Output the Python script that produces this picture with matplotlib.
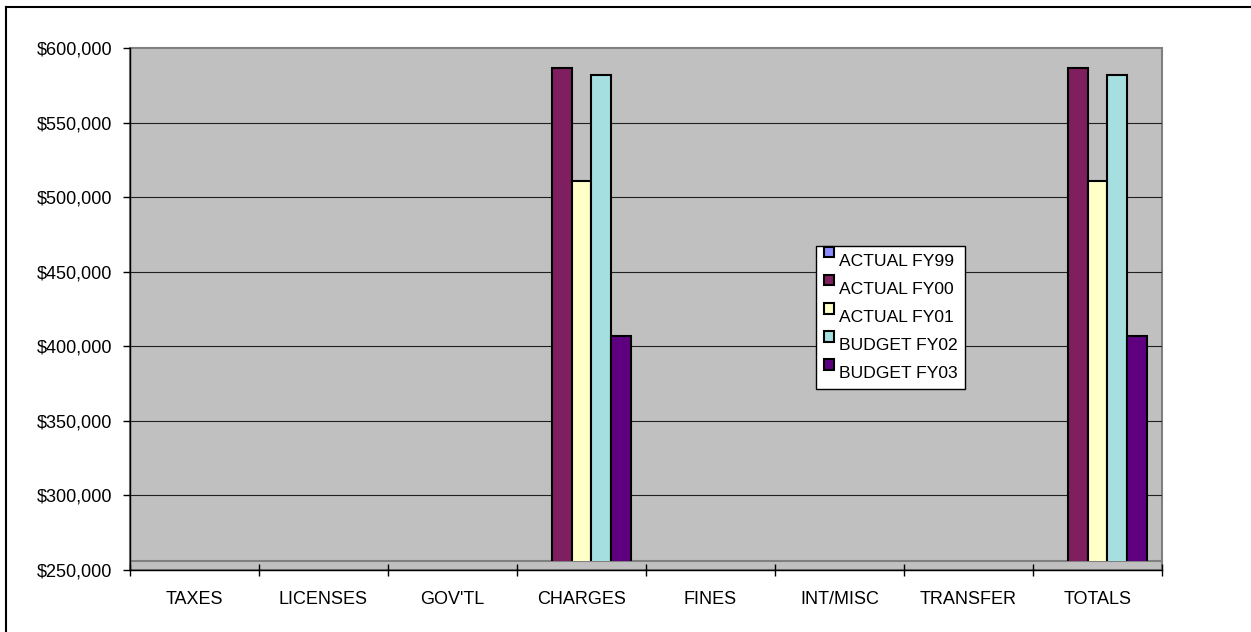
import numpy as np
import matplotlib
matplotlib.use("Agg")
import matplotlib.pyplot as plt
import matplotlib.transforms as mtransforms
from matplotlib.patches import Rectangle
from matplotlib.lines import Line2D
from matplotlib.container import BarContainer
from matplotlib.legend_handler import HandlerPatch, update_from_first_child
from matplotlib.ticker import FuncFormatter

plt.rcParams['font.family'] = ['Liberation Sans', 'DejaVu Sans']

categories = ["TAXES", "LICENSES", "GOV'TL", "CHARGES", "FINES", "INT/MISC", "TRANSFER", "TOTALS"]
series = ["ACTUAL FY99", "ACTUAL FY00", "ACTUAL FY01", "BUDGET FY02", "BUDGET FY03"]
actual_fy99 = [0, 0, 0, 0, 0, 0, 0, 0]
actual_fy00 = [0, 0, 0, 586500, 0, 0, 0, 586500]
actual_fy01 = [0, 0, 0, 510500, 0, 0, 0, 510500]
budget_fy02 = [0, 0, 0, 582000, 0, 0, 0, 582000]
budget_fy03 = [0, 0, 0, 406700, 0, 0, 0, 406700]
values = [actual_fy99, actual_fy00, actual_fy01, budget_fy02, budget_fy03]
colors = ["#8C8CFF", "#7F1F5F", "#FFFFC8", "#A6DFE0", "#5F0080"]
yticks = list(range(250000, 600001, 50000))

W, H = 1251, 632
fig = plt.figure(figsize=(W / 100, H / 100), dpi=100)
ax = fig.add_axes([130 / W, 1 - 570 / H, 1032 / W, 522 / H])
ax.set_facecolor('#c0c0c0')
ax.set_xlim(0, len(categories))
ax.set_ylim(yticks[0], yticks[-1])

# back wall + floor (floor top sits a few pixels above the axis line)
ncat = len(categories)
wall = Rectangle((0, yticks[0]), ncat, yticks[-1] - yticks[0],
                 facecolor='#c0c0c0', edgecolor='#808080', lw=1.5, clip_on=False, zorder=0.5)
ax.add_patch(wall)
floor = mtransforms.offset_copy(ax.transData, fig=fig, x=0, y=9, units='dots')
ax.plot([0, ncat], [yticks[0], yticks[0]], transform=floor, color='#808080', lw=1.5, zorder=1)
bar_clip = Rectangle((0, yticks[0]), ncat, yticks[-1] - yticks[0], transform=floor,
                     fill=False, lw=0)
ax.add_patch(bar_clip)
for v in yticks[1:-1]:
    ax.axhline(v, color='#202020', lw=0.8, zorder=1)

n = len(series)
bw = 0.155
x = np.arange(ncat) + 0.5
for i, (name, vals, c) in enumerate(zip(series, values, colors)):
    bars = ax.bar(x + (i - (n - 1) / 2) * bw, vals, bw, color=c, edgecolor='black',
                  lw=1.5, label=name, zorder=2)
    for b in bars:
        b.set_clip_path(bar_clip)

for s in ['top', 'right']:
    ax.spines[s].set_visible(False)
for s in ['left', 'bottom']:
    ax.spines[s].set_linewidth(1.0)

ax.set_yticks(yticks)
ax.yaxis.set_major_formatter(FuncFormatter(lambda v, p: "${:,.0f}".format(v)))
ax.tick_params(axis='y', direction='out', length=5, width=1, labelsize=13, pad=8)
ax.set_xticks(x)
ax.set_xticklabels(categories)
ax.set_xticks(np.arange(ncat + 1), minor=True)
ax.tick_params(axis='x', which='major', length=0, labelsize=13, pad=15)
ax.tick_params(axis='x', which='minor', direction='inout', length=8, width=1)


# Excel style legend key: small square sitting above-left of the label
def marker_box(legend, orig_handle, xdescent, ydescent, width, height, fontsize):
    s = 0.6 * fontsize
    return Rectangle((-xdescent, -ydescent + height - s + 0.42 * fontsize), s, s)


leg = ax.legend(loc='upper left', bbox_to_anchor=(816 / W, 1 - 246 / H),
                bbox_transform=fig.transFigure, borderaxespad=0, fontsize=12.6,
                fancybox=False, shadow=False, framealpha=1, edgecolor='black',
                handlelength=0.6, handleheight=0.6, handletextpad=0.25,
                labelspacing=0.75, borderpad=0.45,
                handler_map={BarContainer: HandlerPatch(patch_func=marker_box,
                                                        update_func=update_from_first_child)})
leg.get_frame().set_linewidth(1.0)
leg.set_zorder(5)

# chart border (only left and top visible)
fig.add_artist(Line2D([6 / W, 6 / W], [0, 1 - 7 / H], color='black', lw=1.5))
fig.add_artist(Line2D([6 / W, 1], [1 - 7 / H, 1 - 7 / H], color='black', lw=1.5))

fig.savefig("out.png", dpi=100)
